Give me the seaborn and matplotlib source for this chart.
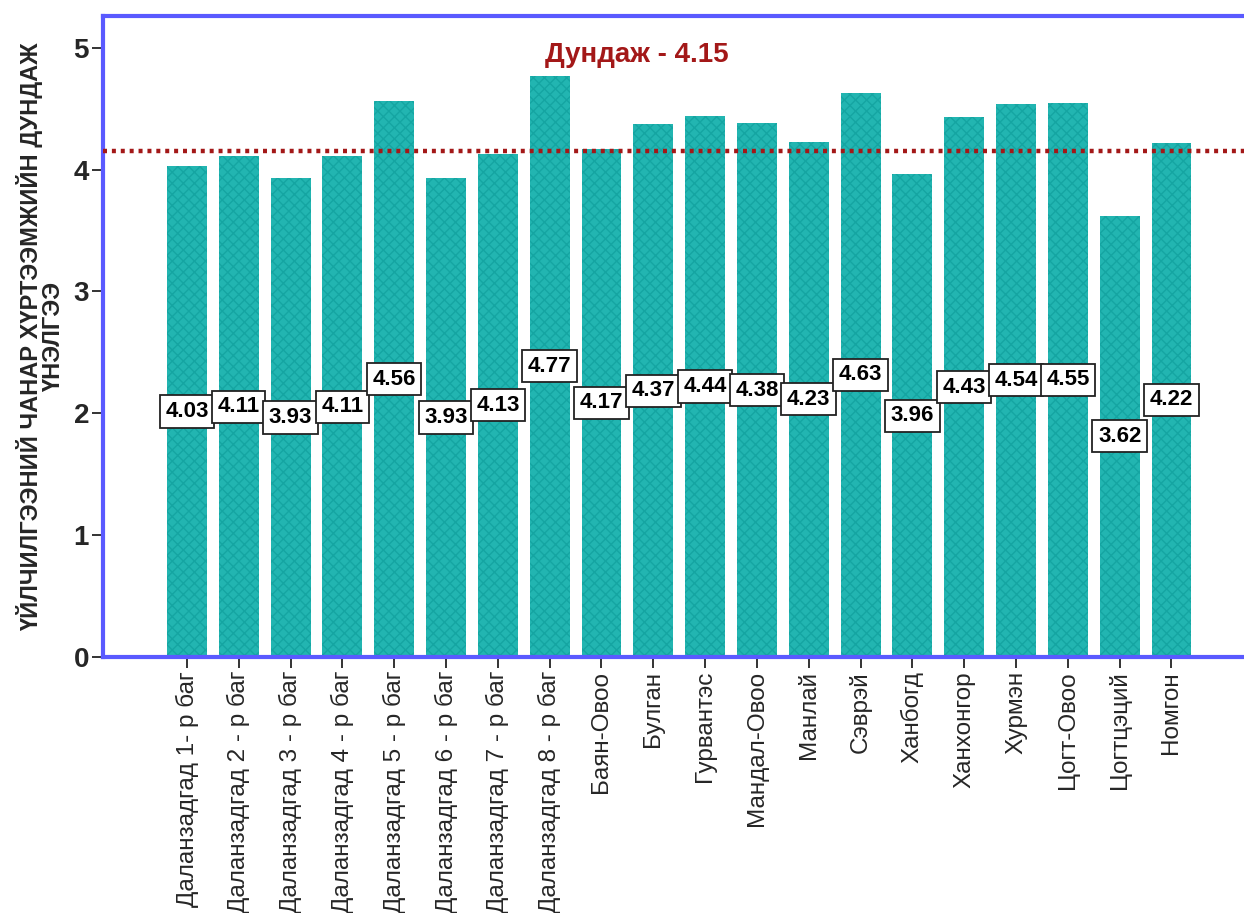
import matplotlib
matplotlib.use("Agg")
import matplotlib.pyplot as plt
from matplotlib import font_manager
import seaborn as sns
import pandas as pd

# Average service-quality score per bag / sum
categories = [
    "Даланзадгад 1- р баг", "Даланзадгад 2 - р баг", "Даланзадгад 3 - р баг",
    "Даланзадгад 4 - р баг", "Даланзадгад 5 - р баг", "Даланзадгад 6 - р баг",
    "Даланзадгад 7 - р баг", "Даланзадгад 8 - р баг", "Баян-Овоо", "Булган",
    "Гурвантэс", "Мандал-Овоо", "Манлай", "Сэврэй", "Ханбогд", "Ханхонгор",
    "Хурмэн", "Цогт-Овоо", "Цогтцэций", "Номгон",
]
scores = [4.03, 4.11, 3.93, 4.11, 4.56, 3.93, 4.13, 4.77, 4.17, 4.37,
          4.44, 4.38, 4.23, 4.63, 3.96, 4.43, 4.54, 4.55, 3.62, 4.22]
overall_mean = 4.15
y_ticks = [0, 1, 2, 3, 4, 5]
y_label = "ҮЙЛЧИЛГЭЭНИЙ ЧАНАР ХҮРТЭЭМЖИЙН ДУНДАЖ\nҮНЭЛГЭЭ"
mean_label = "Дундаж - 4.15"

sns.set_theme(style="white")
installed = {f.name for f in font_manager.fontManager.ttflist}
narrow = "Liberation Sans Narrow" if "Liberation Sans Narrow" in installed else "Liberation Sans"
plt.rcParams["font.family"] = ["Liberation Sans", "DejaVu Sans"]

df = pd.DataFrame({"place": categories, "score": scores})

fig = plt.figure(figsize=(12.44, 9.13), dpi=100)
ax = fig.add_axes([103 / 1244, 256 / 913, 1 - 103 / 1244, 641 / 913])

sns.barplot(data=df, x="place", y="score", color="#22b5b1", width=0.77,
            saturation=1, ax=ax, errorbar=None)

plt.rcParams["hatch.linewidth"] = 1.0
for p in ax.patches:
    p.set_hatch("xxx")
    p.set_edgecolor("#15a5a2")
    p.set_linewidth(0)

# value labels at half bar height
for i, v in enumerate(scores):
    ax.text(i, v / 2, f"{v:.2f}", ha="center", va="center", fontsize=16,
            fontweight="bold", color="black", zorder=5,
            family=[narrow, "DejaVu Sans"],
            bbox=dict(boxstyle="square,pad=0.25", fc="white", ec="#222222", lw=1.3))

# overall mean reference line
ax.axhline(overall_mean, color="#a31818", lw=3.2, ls=(0, (0.9, 1.1)), zorder=4)
ax.text(8.69, 4.94, mean_label, ha="center", va="center", fontsize=20,
        fontweight="bold", color="#a31818", family=[narrow, "DejaVu Sans"])

ax.set_xlim(-1.62, 20.4)
ax.set_ylim(0, 5.26)
ax.set_yticks(y_ticks)
ax.set_yticklabels([str(t) for t in y_ticks], fontsize=20, fontweight="bold",
                   family=[narrow, "DejaVu Sans"])
ax.set_xticks(range(len(categories)))
ax.set_xticklabels(categories, rotation=90, fontsize=17.5, va="top", ha="center")
ax.set_xlabel("")
ax.set_ylabel(y_label, fontsize=17, fontweight="bold", family=[narrow, "DejaVu Sans"],
              linespacing=0.95, labelpad=6)

ax.tick_params(axis="both", which="both", direction="out", length=8, width=1.4,
               color="#333333", pad=2, left=True, bottom=True)

spine_color = "#5a5aff"
for side in ["left", "bottom", "top"]:
    ax.spines[side].set_visible(True)
    ax.spines[side].set_color(spine_color)
    ax.spines[side].set_linewidth(3)
ax.spines["right"].set_visible(False)

fig.savefig("out.png", dpi=100, facecolor="white")
